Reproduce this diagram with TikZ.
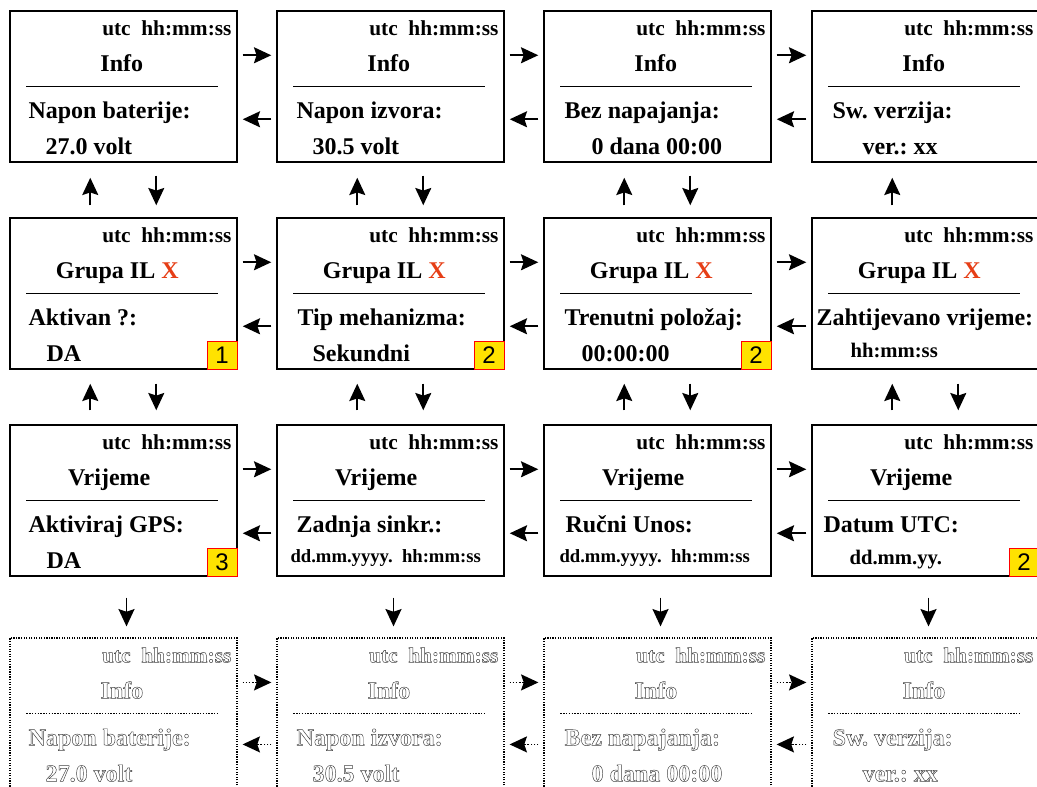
\documentclass[tikz,border=0pt]{standalone}
\usepackage{fontspec}
\setmainfont{Liberation Serif}
\newfontfamily\badgefont{Liberation Sans}
\usetikzlibrary{arrows.meta,calc}
\frenchspacing

\definecolor{xred}{RGB}{230,62,22}
\definecolor{badgeyellow}{RGB}{255,226,0}

\newcommand{\outlineon}{\special{pdf:literal direct 1 Tr 0.35 w}}
\newcommand{\outlineoff}{\special{pdf:literal direct 0 Tr}}

\tikzset{
  scrbox/.style={draw, line width=1.1pt, minimum width=170.25pt, minimum height=113.25pt, inner sep=0pt},
  ghostbox/.style={draw, densely dotted, line width=0.9pt, minimum width=170.25pt, minimum height=113.25pt, inner sep=0pt},
  scrtxt/.style={inner sep=0pt, font=\fontsize{18}{20}\selectfont\bfseries},
  utctxt/.style={scrtxt, anchor=base east, font=\fontsize{16}{18}\selectfont\bfseries},
  headtxt/.style={scrtxt, anchor=base},
  labeltxt/.style={scrtxt, anchor=base west},
  smalltxt/.style={font=\fontsize{15.5}{17}\selectfont\bfseries, yshift=3pt},
  tinytxt/.style={font=\fontsize{14}{16}\selectfont\bfseries, yshift=4pt},
  divider/.style={line width=1.1pt},
  arr/.style={line width=1.3pt, -{Stealth[length=13pt,width=12pt,inset=2pt]}},
  badge/.style={draw=red, line width=0.9pt, fill=badgeyellow, anchor=south east,
    minimum width=22.5pt, minimum height=21pt, inner sep=0pt, font=\badgefont\fontsize{18}{18}\selectfont},
}

% one display screen: name, centre, title, title x, line 1, x, line 2, x, style of line 2
\newcommand{\screen}[9]{%
  \node[scrbox] (#1) at (#2) {};
  \node[utctxt] (#1u) at ($(#1.north east)+(-6,25)$) {utc\ \ hh:mm:ss};
  \node[headtxt] (#1h) at ($(#1.north west)+(#4,61)$) {#3};
  \draw[divider] ($(#1.north west)+(17,76)$) -- ($(#1.north west)+(209,76)$);
  \node[labeltxt] (#1a) at ($(#1.north west)+(#6,108)$) {#5};
  \node[labeltxt,#9] (#1b) at ($(#1.north west)+(#8,144)$) {#7};
}

\begin{document}
\begin{tikzpicture}[x=0.75pt,y=-0.75pt]
  \useasboundingbox (0,0) rectangle (1037,786);

  % info
  \screen{b11}{123.5,86.5}{Info}{112.5}{Napon baterije:}{19}{27.0 volt}{36}{}
  \screen{b12}{390.5,86.5}{Info}{112.5}{Napon izvora:}{20}{30.5 volt}{36}{}
  \screen{b13}{657.5,86.5}{Info}{112.5}{Bez napajanja:}{21}{0 dana 00:00}{48}{}
  \screen{b14}{925.5,86.5}{Info}{112.5}{Sw. verzija:}{21}{ver.: xx}{51}{}

  % grupa
  \screen{b21}{123.5,293.5}{Grupa IL \textcolor{xred}{X}}{108}{Aktivan ?:}{19}{DA}{37}{}
  \screen{b22}{390.5,293.5}{Grupa IL \textcolor{xred}{X}}{108}{Tip mehanizma:}{21}{Sekundni}{36}{}
  \screen{b23}{657.5,293.5}{Grupa IL \textcolor{xred}{X}}{108}{Trenutni položaj:}{21}{00:00:00}{38}{}
  \screen{b24}{925.5,293.5}{Grupa IL \textcolor{xred}{X}}{108}{Zahtijevano vrijeme:}{5}{hh:mm:ss}{39}{smalltxt}

  % vrijeme
  \screen{b31}{123.5,500.5}{Vrijeme}{100}{Aktiviraj GPS:}{19}{DA}{37}{}
  \screen{b32}{390.5,500.5}{Vrijeme}{100}{Zadnja sinkr.:}{20}{dd.mm.yyyy.\ \ hh:mm:ss}{14}{tinytxt}
  \screen{b33}{657.5,500.5}{Vrijeme}{100}{Ručni Unos:}{22}{dd.mm.yyyy.\ \ hh:mm:ss}{16}{tinytxt}
  \screen{b34}{925.5,500.5}{Vrijeme}{100}{Datum UTC:}{12}{dd.mm.yy.}{38}{smalltxt}

  \node[badge] (k21) at (b21.south east) {1};
  \node[badge] (k22) at (b22.south east) {2};
  \node[badge] (k23) at (b23.south east) {2};
  \node[badge] (k31) at (b31.south east) {3};
  \node[badge] (k34) at (b34.south east) {2};

  % info again, greyed out
  \begin{scope}[scrbox/.style={ghostbox}, divider/.append style={densely dotted, line width=0.9pt},
      scrtxt/.append style={text=black!75, execute at begin node=\outlineon, execute at end node=\outlineoff}]
    \screen{b41}{123.5,713.5}{Info}{112.5}{Napon baterije:}{19}{27.0 volt}{36}{}
    \screen{b42}{390.5,713.5}{Info}{112.5}{Napon izvora:}{20}{30.5 volt}{36}{}
    \screen{b43}{657.5,713.5}{Info}{112.5}{Bez napajanja:}{21}{0 dana 00:00}{48}{}
    \screen{b44}{925.5,713.5}{Info}{112.5}{Sw. verzija:}{21}{ver.: xx}{51}{}
  \end{scope}

  % left / right
  \foreach \r in {1,2,3}
    \foreach \c/\n in {1/2, 2/3, 3/4} {
      \draw[arr] ($(b\r\c.north east)+(5,45)$) -- ($(b\r\n.north west)+(-5,45)$);
      \draw[arr] ($(b\r\n.north west)+(-5,109)$) -- ($(b\r\c.north east)+(5,109)$);
    }
  \foreach \c/\n in {1/2, 2/3, 3/4} {
    \draw[arr, densely dotted] ($(b4\c.north east)+(5,45)$) -- ($(b4\n.north west)+(-5,45)$);
    \draw[arr, densely dotted] ($(b4\n.north west)+(-5,107)$) -- ($(b4\c.north east)+(5,107)$);
  }

  % up / down
  \foreach \c in {1,2,3,4} {
    \draw[arr] ($(b2\c.north west)+(81,-12)$) -- ($(b1\c.south west)+(81,15)$);
    \draw[arr] ($(b3\c.north west)+(81,-14)$) -- ($(b2\c.south west)+(81,14)$);
    \draw[arr] ($(b2\c.south west)+(147,14)$) -- ($(b3\c.north west)+(147,-14)$);
    \draw[arr] ($(b3\c.south)+(3,21)$) -- ($(b4\c.north)+(3,-11)$);
  }
  \foreach \c in {1,2,3}
    \draw[arr] ($(b1\c.south west)+(147,13)$) -- ($(b2\c.north west)+(147,-12)$);
\end{tikzpicture}
\end{document}
